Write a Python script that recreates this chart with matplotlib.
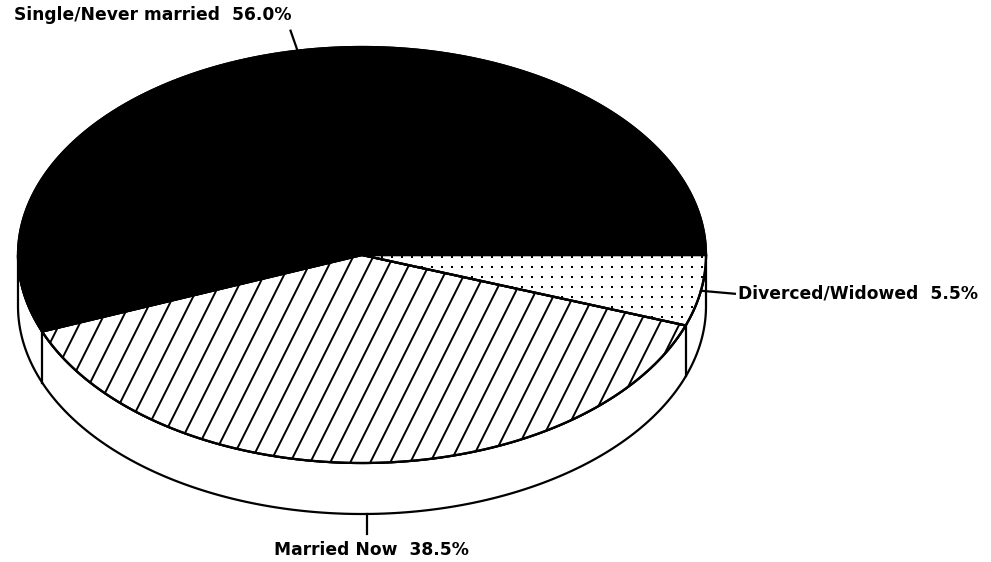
import numpy as np
import matplotlib.pyplot as plt
from matplotlib.patches import Polygon

labels = ['Single/Never married', 'Married Now', 'Diverced/Widowed']
shares = [56.0, 38.5, 5.5]

# ellipse of the pie top, in pixel-like data units
cx, cy = 362, 255
rx, ry = 344, 208
depth = 51


def pt(t, drop=0):
    return cx + rx * np.cos(t), cy - ry * np.sin(t) + drop


def arc(t0, t1, drop=0, n=300):
    t = np.linspace(t0, t1, n)
    return np.column_stack([cx + rx * np.cos(t), cy - ry * np.sin(t) + drop])


fig = plt.figure(figsize=(9.91, 5.62), dpi=100)
ax = fig.add_axes([0, 0, 1, 1])
ax.set_xlim(0, 991)
ax.set_ylim(562, 0)
ax.axis('off')

lw = 1.6

# side band (front half only)
side = np.vstack([arc(np.pi, 2 * np.pi), arc(2 * np.pi, np.pi, depth)])
ax.add_patch(Polygon(side, closed=True, fc='white', ec='black', lw=lw, zorder=1))

edges = np.cumsum([0] + shares) / 100 * 2 * np.pi
for e in edges:
    if np.sin(e) < -1e-6:
        x0, y0 = pt(e)
        x1, y1 = pt(e, depth)
        ax.plot([x0, x1], [y0, y1], color='black', lw=lw, zorder=2)

# top face wedges
wedges = []
for i in range(len(shares)):
    poly = np.vstack([[cx, cy], arc(edges[i], edges[i + 1])])
    fc = 'black' if i == 0 else 'white'
    w = Polygon(poly, closed=True, fc=fc, ec='black', lw=lw, zorder=3)
    ax.add_patch(w)
    wedges.append(w)

# diagonal hatching on "Married Now"
dx, dy = 1.0, -2.0
for x0 in np.arange(cx - rx - 300, cx + rx + 300, 20):
    s = np.array([-300, 300])
    ln, = ax.plot(x0 + 13 + s * dx, 461 + s * dy, color='black', lw=1.4, zorder=4)
    ln.set_clip_path(wedges[1])

# dot screen on "Diverced/Widowed"
gx, gy = np.meshgrid(np.arange(622 - 400, cx + rx + 10, 10),
                     np.arange(257 - 300, cy + ry + 10, 10))
sc = ax.scatter(gx.ravel(), gy.ravel(), s=4.5, color='black', marker='s',
                linewidths=0, zorder=4)
sc.set_clip_path(wedges[2])

# redraw outlines above fills
for w in wedges:
    ax.add_patch(Polygon(w.get_xy(), closed=True, fill=False, ec='black', lw=lw, zorder=5))

# leaders and labels
leader = [(-7, -20), (0, 20), (34, 3)]
text_off = [(1, -16), (4, 16), (3, 0)]
align = ['right', 'center', 'left']
for i, (lab, v) in enumerate(zip(labels, shares)):
    m = (edges[i] + edges[i + 1]) / 2
    drop = depth if np.sin(m) < -0.5 else 0
    x0, y0 = pt(m, drop)
    x1, y1 = x0 + leader[i][0], y0 + leader[i][1]
    ax.plot([x0, x1], [y0, y1], color='black', lw=1.6, zorder=6)
    ax.text(x1 + text_off[i][0], y1 + text_off[i][1], f'{lab}  {v:.1f}%',
            ha=align[i], va='center', fontsize=12.3, fontweight='bold',
            family='DejaVu Sans', color='black')

fig.savefig('out.png', dpi=100)
